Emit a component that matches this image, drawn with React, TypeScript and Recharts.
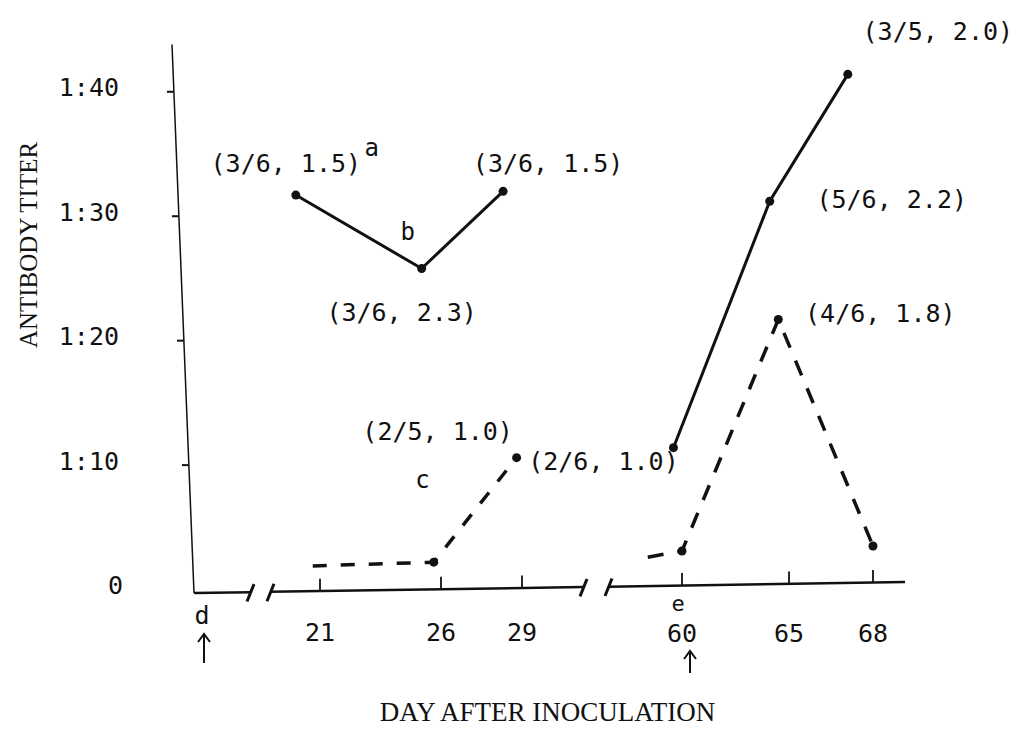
import React from "react";
import {
  ComposedChart,
  Line,
  XAxis,
  YAxis,
  ReferenceLine,
  LabelList,
  Label,
} from "recharts";

document.body.style.margin = "0";

// x axis is broken: day ticks and where they sit along the drawn axis
const DAY_TICKS = [0, 21, 26, 29, 60, 65, 68];
const TICK_LABELS = ["", "21", "26", "29", "60", "65", "68"];
const TICK_MARKS = ["d", "", "", "", "e", "", ""];
const TICK_ARROWS = [true, false, false, false, true, false, false];

const TITER_TICKS = [0, 10, 20, 30, 40];
const TITER_LABELS = ["0", "1:10", "1:20", "1:30", "1:40"];

// first inoculation, solid line
const solid1Days = [20.0, 25.2, 28.3];
const solid1Titers = [31.7, 25.8, 32.0];
const solid1Notes = ["(3/6, 1.5)", "(3/6, 2.3)", "(3/6, 1.5)"];
const solid1Marks = ["a", "b", ""];

// first inoculation, dashed line
const dash1Days = [20.7, 25.7, 28.8];
const dash1Titers = [1.9, 2.2, 10.6];
const dash1Notes = ["", "", "(2/5, 1.0)"];
const dash1Marks = ["", "", "c"];

// second inoculation, solid line
const solid2Days = [59.6, 64.1, 67.1];
const solid2Titers = [11.4, 31.2, 41.4];
const solid2Notes = ["(2/6, 1.0)", "(5/6, 2.2)", "(3/5, 2.0)"];
const solid2Marks = ["", "", ""];

// second inoculation, dashed line
const dash2Days = [58.4, 60.0, 64.5, 68.0];
const dash2Titers = [2.6, 3.1, 21.7, 3.5];
const dash2Notes = ["", "", "(4/6, 1.8)", ""];
const dash2Marks = ["", "", "", ""];

// layout of the broken axis (axis units)
const AXIS_UNITS = [0, 126, 247, 328, 488, 595, 679];
const TICK_GROUPS = [[0], [1, 2, 3], [4, 5, 6]];
const AXIS_SEGMENTS = [
  [0, 56],
  [76, 389],
  [414, 711],
];
const X_DOMAIN = [-22, 711];
const Y_DOMAIN = [-1, 44];
const Y_AXIS_TOP = 43.8;

// label offsets (px) from their points
const solid1NoteOff = [[-10, -32], [-20, 44], [45, -28]];
const solid1MarkOff = [[76, -47], [-14, -36], [0, 0]];
const dash1NoteOff = [[0, 0], [0, 0], [-79, -26]];
const dash1MarkOff = [[0, 0], [0, 0], [-94, 22]];
const solid2NoteOff = [[-70, 14], [122, -2], [90, -43]];
const dash2NoteOff = [[0, 0], [0, 0], [102, -6], [0, 0]];
const NO_OFF = [[0, 0], [0, 0], [0, 0], [0, 0]];

const MONO = "'DejaVu Sans Mono', monospace";
const SERIF = "'Liberation Serif', 'DejaVu Serif', serif";
const INK = "#111";

function groupDist(day: number, g: number[]) {
  const lo = DAY_TICKS[g[0]];
  const hi = DAY_TICKS[g[g.length - 1]];
  return day < lo ? lo - day : day > hi ? day - hi : 0;
}

function dayToAxis(day: number) {
  const grp = TICK_GROUPS.reduce((best, g) =>
    groupDist(day, g) < groupDist(day, best) ? g : best
  );
  if (grp.length === 1) return AXIS_UNITS[grp[0]];
  let i = 0;
  while (i < grp.length - 2 && day > DAY_TICKS[grp[i + 1]]) i++;
  const a = grp[i];
  const b = grp[i + 1];
  const slope = (AXIS_UNITS[b] - AXIS_UNITS[a]) / (DAY_TICKS[b] - DAY_TICKS[a]);
  return AXIS_UNITS[a] + (day - DAY_TICKS[a]) * slope;
}

function build(days: number[], titers: number[], notes: string[], marks: string[]) {
  return days.map((d, i) => ({
    pos: dayToAxis(d),
    titer: titers[i],
    note: notes[i],
    mark: marks[i],
  }));
}

const solid1 = build(solid1Days, solid1Titers, solid1Notes, solid1Marks);
const dash1 = build(dash1Days, dash1Titers, dash1Notes, dash1Marks);
const solid2 = build(solid2Days, solid2Titers, solid2Notes, solid2Marks);
const dash2 = build(dash2Days, dash2Titers, dash2Notes, dash2Marks);

// the hand drawn axes lean a little
const xAxisBase = (u: number) => -0.28 + u * 0.00124;
const yAxisAt = (v: number) => (X_DOMAIN[0] * v) / Y_AXIS_TOP;

const noteText = (offsets: number[][], size: number) => (props: any) => {
  const { x, y, index, value } = props;
  if (!value) return null;
  const [dx, dy] = offsets[index];
  return (
    <text
      x={x + dx}
      y={y + dy}
      textAnchor="middle"
      dominantBaseline="central"
      fontFamily={MONO}
      fontSize={size}
      fill={INK}
    >
      {value}
    </text>
  );
};

const dotAll = (props: any) => (
  <circle key={props.index} cx={props.cx} cy={props.cy} r={4.5} fill={INK} />
);
const dotSkipFirst = (props: any) =>
  props.index === 0 ? (
    <g key={props.index} />
  ) : (
    <circle key={props.index} cx={props.cx} cy={props.cy} r={4.5} fill={INK} />
  );

function YTick({ x, y, payload }: any) {
  const label = TITER_LABELS[TITER_TICKS.indexOf(payload.value)];
  return (
    <text
      x={payload.value === 0 ? x - 49 : x - 53}
      y={y - 4}
      textAnchor="end"
      dominantBaseline="central"
      fontFamily={MONO}
      fontSize={25}
      fill={INK}
    >
      {label}
    </text>
  );
}

function XTick({ x, y, payload }: any) {
  const i = AXIS_UNITS.indexOf(payload.value);
  if (i < 0) return null;
  const numY = i >= 4 ? y + 31 : y + 30;
  return (
    <g>
      {TICK_LABELS[i] && (
        <text
          x={x}
          y={numY}
          textAnchor="middle"
          dominantBaseline="central"
          fontFamily={MONO}
          fontSize={25}
          fill={INK}
        >
          {TICK_LABELS[i]}
        </text>
      )}
      {TICK_MARKS[i] && (
        <text
          x={i === 0 ? x + 8 : x - 4}
          y={i === 0 ? y + 13 : y + 1}
          textAnchor="middle"
          dominantBaseline="central"
          fontFamily={MONO}
          fontSize={i === 0 ? 25 : 22}
          fill={INK}
        >
          {TICK_MARKS[i]}
        </text>
      )}
      {TICK_ARROWS[i] && (
        <path
          d={
            i === 0
              ? `M${x + 10},${y + 61} L${x + 10},${y + 32} M${x + 4},${y + 40} L${x + 10},${y + 32} L${x + 16},${y + 40}`
              : `M${x + 8},${y + 71} L${x + 8},${y + 49} M${x + 2},${y + 57} L${x + 8},${y + 49} L${x + 14},${y + 57}`
          }
          stroke={INK}
          strokeWidth={2}
          fill="none"
        />
      )}
    </g>
  );
}

export default function App() {
  return (
    <div style={{ width: 1027, height: 729, background: "#fff" }}>
      <ComposedChart
        width={1027}
        height={729}
        margin={{ top: 42, right: 122, bottom: 0, left: 0 }}
      >
        <XAxis
          dataKey="pos"
          type="number"
          domain={X_DOMAIN}
          ticks={AXIS_UNITS}
          interval={0}
          axisLine={false}
          tickLine={false}
          tickSize={0}
          tickMargin={0}
          height={127}
          tick={<XTick />}
          allowDuplicatedCategory={false}
        >
          <Label
            content={({ viewBox }: any) => (
              <text
                x={viewBox.x + viewBox.width / 2 + 9}
                y={viewBox.y + 110}
                textAnchor="middle"
                dominantBaseline="central"
                fontFamily={SERIF}
                fontSize={27}
                fill={INK}
              >
                DAY AFTER INOCULATION
              </text>
            )}
          />
        </XAxis>
        <YAxis
          type="number"
          domain={Y_DOMAIN}
          ticks={TITER_TICKS}
          interval={0}
          axisLine={false}
          tickLine={false}
          tickSize={0}
          tickMargin={0}
          width={172}
          tick={<YTick />}
        >
          <Label
            content={() => (
              <text
                x={28}
                y={245}
                transform="rotate(-90 28 245)"
                textAnchor="middle"
                dominantBaseline="central"
                fontFamily={SERIF}
                fontSize={25}
                fill={INK}
              >
                ANTIBODY TITER
              </text>
            )}
          />
        </YAxis>

        {/* y axis line and its ticks */}
        <ReferenceLine
          segment={[
            { x: X_DOMAIN[0], y: Y_AXIS_TOP },
            { x: 0, y: xAxisBase(0) },
          ]}
          stroke={INK}
          strokeWidth={1.5}
          ifOverflow="visible"
        />
        {TITER_TICKS.filter((v) => v > 0).map((v) => (
          <ReferenceLine
            key={"yt" + v}
            segment={[
              { x: yAxisAt(v) - 7, y: v },
              { x: yAxisAt(v), y: v },
            ]}
            stroke={INK}
            strokeWidth={2}
            ifOverflow="visible"
          />
        ))}

        {/* broken x axis */}
        {AXIS_SEGMENTS.map(([a, b]) => (
          <ReferenceLine
            key={"xs" + a}
            segment={[
              { x: a, y: xAxisBase(a) },
              { x: b, y: xAxisBase(b) },
            ]}
            stroke={INK}
            strokeWidth={2.5}
            ifOverflow="visible"
          />
        ))}
        {AXIS_SEGMENTS.flat()
          .filter((u) => u !== 0 && u !== AXIS_SEGMENTS[2][1])
          .map((u) => (
            <ReferenceLine
              key={"br" + u}
              segment={[
                { x: u - 3, y: xAxisBase(u) - 0.75 },
                { x: u + 4, y: xAxisBase(u) + 0.65 },
              ]}
              stroke={INK}
              strokeWidth={3}
              ifOverflow="visible"
            />
          ))}
        {AXIS_UNITS.filter((u) => u > 0).map((u) => (
          <ReferenceLine
            key={"xt" + u}
            segment={[
              { x: u, y: xAxisBase(u) },
              { x: u, y: xAxisBase(u) + 1 },
            ]}
            stroke={INK}
            strokeWidth={1.8}
            ifOverflow="visible"
          />
        ))}

        <Line
          data={solid1}
          dataKey="titer"
          type="linear"
          stroke={INK}
          strokeWidth={3}
          dot={dotAll}
          activeDot={false}
          isAnimationActive={false}
        >
          <LabelList dataKey="note" content={noteText(solid1NoteOff, 25)} />
          <LabelList dataKey="mark" content={noteText(solid1MarkOff, 24)} />
        </Line>
        <Line
          data={dash1}
          dataKey="titer"
          type="linear"
          stroke={INK}
          strokeWidth={3.5}
          strokeDasharray="14 14"
          dot={dotSkipFirst}
          activeDot={false}
          isAnimationActive={false}
        >
          <LabelList dataKey="note" content={noteText(dash1NoteOff, 25)} />
          <LabelList dataKey="mark" content={noteText(dash1MarkOff, 24)} />
        </Line>
        <Line
          data={solid2}
          dataKey="titer"
          type="linear"
          stroke={INK}
          strokeWidth={3}
          dot={dotAll}
          activeDot={false}
          isAnimationActive={false}
        >
          <LabelList dataKey="note" content={noteText(solid2NoteOff, 25)} />
          <LabelList dataKey="mark" content={noteText(NO_OFF, 24)} />
        </Line>
        <Line
          data={dash2}
          dataKey="titer"
          type="linear"
          stroke={INK}
          strokeWidth={3.5}
          strokeDasharray="16 14"
          dot={dotSkipFirst}
          activeDot={false}
          isAnimationActive={false}
        >
          <LabelList dataKey="note" content={noteText(dash2NoteOff, 25)} />
        </Line>
      </ComposedChart>
    </div>
  );
}
